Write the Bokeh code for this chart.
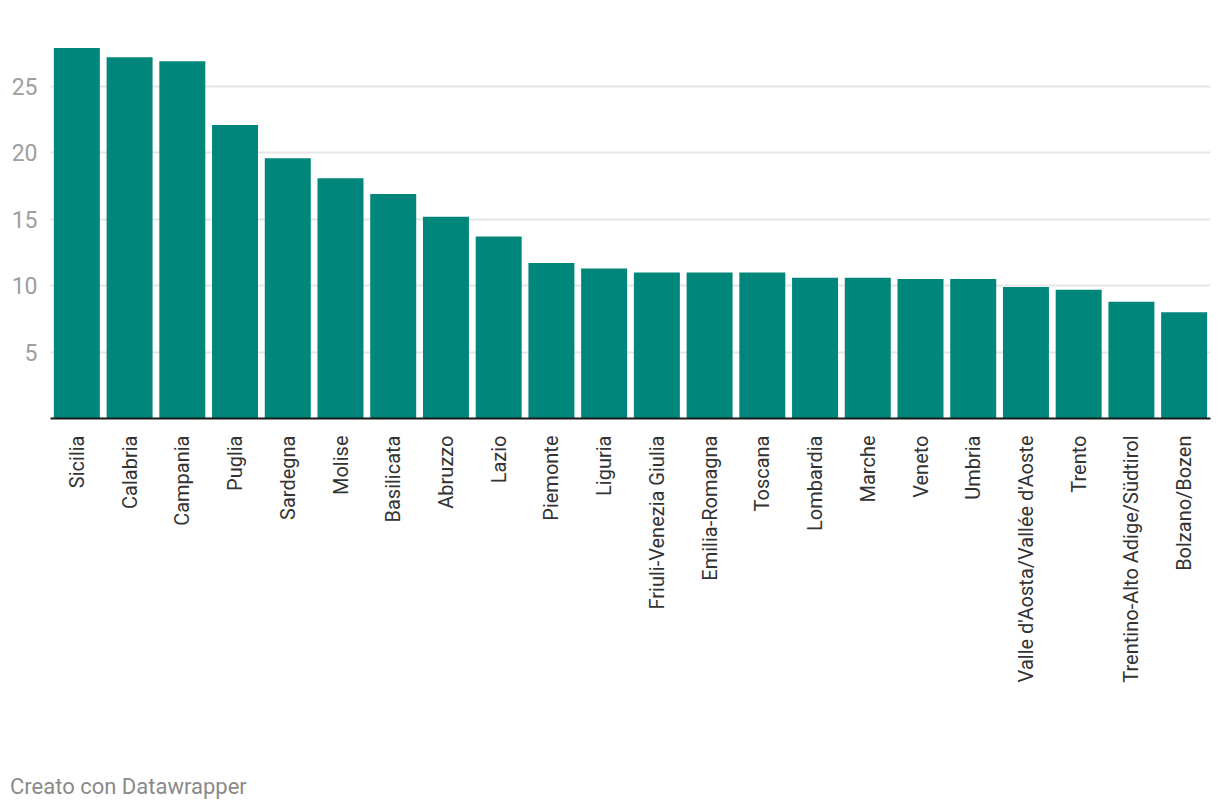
from bokeh.plotting import figure
from bokeh.models import Range1d, FactorRange, Div, FixedTicker
from bokeh.layouts import column
from bokeh.embed import file_html
from bokeh.resources import INLINE
import math

regions = ["Sicilia", "Calabria", "Campania", "Puglia", "Sardegna", "Molise",
           "Basilicata", "Abruzzo", "Lazio", "Piemonte", "Liguria",
           "Friuli-Venezia Giulia", "Emilia-Romagna", "Toscana", "Lombardia",
           "Marche", "Veneto", "Umbria", "Valle d'Aosta/Vallée d'Aoste",
           "Trento", "Trentino-Alto Adige/Südtirol", "Bolzano/Bozen"]
values = [27.9, 27.2, 26.9, 22.1, 19.6, 18.1, 16.9, 15.2, 13.7, 11.7, 11.3,
          11.0, 11.0, 11.0, 10.6, 10.6, 10.5, 10.5, 9.9, 9.7, 8.8, 8.0]
y_ticks = [5, 10, 15, 20, 25]
footer = "Creato con Datawrapper"

p = figure(width=1212, height=685, output_backend="svg", toolbar_location=None,
           x_range=FactorRange(factors=regions, range_padding=0),
           y_range=Range1d(0, 30.12),
           min_border_left=50, min_border_right=2, min_border_top=18,
           min_border_bottom=0)
p.outline_line_color = None
p.background_fill_color = "white"
p.border_fill_color = "white"

p.vbar(x=regions, top=values, width=0.872, color="#00867a", line_color=None)

p.xgrid.grid_line_color = None
p.ygrid.grid_line_color = "#e6e6e6"
p.ygrid.grid_line_width = 2
p.ygrid.ticker = FixedTicker(ticks=y_ticks)

p.yaxis.ticker = FixedTicker(ticks=y_ticks)
p.yaxis.axis_line_color = None
p.yaxis.major_tick_line_color = None
p.yaxis.minor_tick_line_color = None
p.yaxis.major_label_text_color = "#9e9e9e"
p.yaxis.major_label_text_font = "Roboto"
p.yaxis.major_label_text_font_size = "23px"
p.yaxis.major_label_standoff = 7

p.xaxis.axis_line_color = "#1a1a1a"
p.xaxis.axis_line_width = 2
p.xaxis.major_tick_line_color = None
p.xaxis.minor_tick_line_color = None
p.xaxis.major_label_orientation = math.pi / 2
p.xaxis.major_label_text_color = "#333333"
p.xaxis.major_label_text_font = "Roboto"
p.xaxis.major_label_text_font_size = "20px"
p.xaxis.major_label_standoff = 11

div = Div(text=footer, width=1212, height=115, margin=(0, 0, 0, 0),
          styles={"font-family": "Roboto", "font-size": "22px", "color": "#8a8a8a",
                  "padding-top": "89px", "padding-left": "10px", "line-height": "1.17"})

layout = column(p, div, spacing=0)
open("out.html", "w").write(file_html(layout, INLINE))
